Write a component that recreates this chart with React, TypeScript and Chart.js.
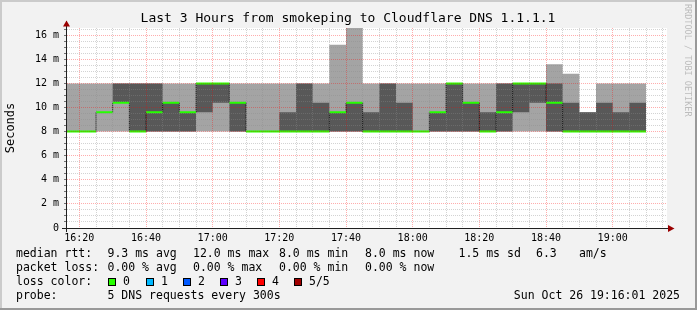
import React, { useEffect, useRef } from "react";
import { Chart, registerables } from "chart.js";

Chart.register(...registerables);

// Time axis: minutes after 16:00. Each RRD step is 5 minutes.
const intervalStartMin = [15, 20, 25, 30, 35, 40, 45, 50, 55, 60, 65, 70, 75, 80, 85, 90, 95, 100, 105, 110, 115, 120, 125, 130, 135, 140, 145, 150, 155, 160, 165, 170, 175, 180, 185];
const intervalEndMin = 190;

// Sorted pings (ms) per step: min, 2nd, median, 4th, max
const minRtt = [8, 8, 8, 8, 8, 8, 8, 8, 8, 8, 8, 8, 8, 8, 8, 8, 8, 8, 8, 8, 8, 8, 8, 8, 8, 8, 8, 8, 8, 8, 8, 8, 8, 8, 8];
const ping2Rtt = [8, 8, 9.6, 10.4, 8, 8, 8, 8, 9.6, 10.4, 8, 8, 8, 8, 8, 8, 8, 8, 8, 8, 8, 8, 8, 8, 8, 8, 8, 9.6, 10.4, 8, 8, 8, 8, 8, 8];
const medianRtt = [8, 8, 9.6, 10.4, 8, 9.6, 10.4, 9.6, 12, 12, 10.4, 8, 8, 8, 8, 8, 9.6, 10.4, 8, 8, 8, 8, 9.6, 12, 10.4, 8, 9.6, 12, 12, 10.4, 8, 8, 8, 8, 8];
const ping4Rtt = [8, 8, 9.6, 12, 12, 12, 10.4, 9.6, 12, 12, 10.4, 8, 8, 9.6, 12, 10.4, 9.6, 10.4, 9.6, 12, 10.4, 8, 9.6, 12, 10.4, 9.6, 12, 12, 12, 12, 10.4, 9.6, 10.4, 9.6, 10.4];
const maxRtt = [12, 12, 12, 12, 12, 12, 12, 12, 12, 12, 12, 12, 12, 12, 12, 12, 15.2, 16.6, 12, 12, 12, 12, 12, 12, 12, 12, 12, 12, 12, 13.6, 12.8, 9.6, 12, 12, 12];

const xLabelMinutes = [20, 40, 60, 80, 100, 120, 140, 160, 180];
const xTickLabels = ["16:20", "16:40", "17:00", "17:20", "17:40", "18:00", "18:20", "18:40", "19:00"];
const yLabelValues = [0, 2, 4, 6, 8, 10, 12, 14, 16];
const yTickLabels = ["0", "2 m", "4 m", "6 m", "8 m", "10 m", "12 m", "14 m", "16 m"];

const titleText = "Last 3 Hours from smokeping to Cloudflare DNS 1.1.1.1";
const rttStats = ["9.3 ms avg", "12.0 ms max", "8.0 ms min", "8.0 ms now", "1.5 ms sd", "6.3", "am/s"];
const lossStats = ["0.00 % avg", "0.00 % max", "0.00 % min", "0.00 % now"];
const lossLabels = ["0", "1", "2", "3", "4", "5/5"];
const lossColors = ["#26ff00", "#00b8ff", "#0059ff", "#5e00ff", "#ff0000", "#a00000"];
const probeText = "5 DNS requests every 300s";
const dateText = "Sun Oct 26 19:16:01 2025";
const sideText = "RRDTOOL / TOBI OETIKER";

const X_MIN = 16.3;
const X_MAX = 196.3;
const Y_MAX = 16.6;

const MONO = '"DejaVu Sans Mono", monospace';

const decorPlugin = {
  id: "smokeDecor",
  beforeDraw(chart: any) {
    const { ctx, chartArea: a, width, height } = chart;
    ctx.save();
    ctx.fillStyle = "#f2f2f2";
    ctx.fillRect(0, 0, width, height);
    ctx.fillStyle = "#cbcbcb";
    ctx.fillRect(0, 0, width, 2);
    ctx.fillRect(0, 0, 2, height);
    ctx.fillStyle = "#999999";
    ctx.fillRect(0, height - 2, width, 2);
    ctx.fillRect(width - 2, 0, 2, height);
    ctx.fillStyle = "#ffffff";
    ctx.fillRect(a.left, a.top, a.right - a.left, a.bottom - a.top);
    ctx.restore();
  },
  afterDraw(chart: any) {
    const { ctx, chartArea: a } = chart;
    ctx.save();
    // axes
    ctx.fillStyle = "#202020";
    ctx.fillRect(a.left - 1, a.top - 7, 1, a.bottom - a.top + 11);
    ctx.fillRect(a.left - 5, a.bottom, a.right - a.left + 6, 1);
    // arrows
    ctx.fillStyle = "#9a0000";
    ctx.beginPath();
    ctx.moveTo(a.left - 4, a.top - 1.5);
    ctx.lineTo(a.left + 3, a.top - 1.5);
    ctx.lineTo(a.left - 0.5, a.top - 7.5);
    ctx.closePath();
    ctx.fill();
    ctx.beginPath();
    ctx.moveTo(a.right + 1, a.bottom - 3);
    ctx.lineTo(a.right + 1, a.bottom + 4);
    ctx.lineTo(a.right + 7.5, a.bottom + 0.5);
    ctx.closePath();
    ctx.fill();

    // title
    ctx.fillStyle = "#000";
    ctx.font = `13px ${MONO}`;
    ctx.textAlign = "center";
    ctx.textBaseline = "middle";
    ctx.fillText(titleText, 348, 19);

    // legend
    ctx.font = `11.5px ${MONO}`;
    ctx.textAlign = "left";
    const rows = [254, 268, 282, 296];
    const colX = [107.5, 193, 279, 365, 458.5, 536, 579];
    ctx.fillText("median rtt:", 16, rows[0]);
    rttStats.forEach((t, i) => ctx.fillText(t, colX[i], rows[0]));
    ctx.fillText("packet loss:", 16, rows[1]);
    lossStats.forEach((t, i) => ctx.fillText(t, colX[i], rows[1]));
    ctx.fillText("loss color:", 16, rows[2]);
    const boxX = [108, 145.5, 182.5, 219.5, 256.5, 293.5];
    lossLabels.forEach((t, i) => {
      const bx = Math.round(boxX[i]);
      ctx.fillStyle = lossColors[i];
      ctx.fillRect(bx, rows[2] - 4, 8, 8);
      ctx.strokeStyle = "#000";
      ctx.lineWidth = 1;
      ctx.strokeRect(bx + 0.5, rows[2] - 3.5, 7, 7);
      ctx.fillStyle = "#000";
      ctx.fillText(t, bx + 15, rows[2]);
    });
    ctx.fillText("probe:", 16, rows[3]);
    ctx.fillText(probeText, 107.5, rows[3]);
    ctx.textAlign = "right";
    ctx.fillText(dateText, 680, rows[3]);

    // side text
    ctx.translate(687, 4);
    ctx.rotate(Math.PI / 2);
    ctx.textAlign = "left";
    ctx.fillStyle = "#bdbdbd";
    ctx.font = `8.5px ${MONO}`;
    ctx.fillText(sideText, 0, 0);
    ctx.restore();
  },
};

export default function App() {
  const ref = useRef<HTMLCanvasElement>(null);

  useEffect(() => {
    const canvas = ref.current;
    if (!canvas) return;

    const ends = [...intervalStartMin.slice(1), intervalEndMin];
    const stepPts = (vals: number[]) => {
      const pts = intervalStartMin.map((x, i) => ({ x, y: vals[i] }));
      pts.push({ x: intervalEndMin, y: vals[vals.length - 1] });
      return pts;
    };
    const medianPts: { x: number; y: number | null }[] = [];
    intervalStartMin.forEach((x, i) => {
      medianPts.push({ x, y: medianRtt[i] }, { x: ends[i], y: medianRtt[i] }, { x: ends[i], y: null });
    });
    const riserPts: { x: number; y: number | null }[] = [];
    for (let i = 1; i < intervalStartMin.length; i++) {
      if (medianRtt[i] !== medianRtt[i - 1]) {
        const x = intervalStartMin[i];
        riserPts.push({ x, y: medianRtt[i - 1] }, { x, y: medianRtt[i] }, { x, y: null });
      }
    }

    const xGrid: number[] = [];
    for (let m = 20; m <= 195; m += 5) xGrid.push(m);
    const yGrid: number[] = [];
    for (let k = 0; k <= 33; k++) yGrid.push(k * 0.5);

    const band = { pointRadius: 0, borderWidth: 0, borderColor: "transparent", stepped: true, tension: 0 };

    const chart = new Chart(canvas, {
      type: "line",
      data: {
        datasets: [
          { ...band, label: "max", data: stepPts(maxRtt), fill: "+1", backgroundColor: "#a4a4a4", order: 6 },
          { ...band, label: "min", data: stepPts(minRtt), fill: false, order: 7 },
          { ...band, label: "p4", data: stepPts(ping4Rtt), fill: "+1", backgroundColor: "#585858", order: 4 },
          { ...band, label: "p2", data: stepPts(ping2Rtt), fill: false, order: 5 },
          {
            label: "median risers",
            data: riserPts,
            borderColor: "#000000",
            borderWidth: 1,
            borderDash: [1, 1],
            pointRadius: 0,
            fill: false,
            order: 2,
          },
          {
            label: "median",
            data: medianPts,
            borderColor: "#26ff00",
            borderWidth: 2,
            borderCapStyle: "butt",
            pointRadius: 0,
            fill: false,
            order: 1,
          },
        ] as any,
      },
      options: {
        animation: false,
        responsive: false,
        devicePixelRatio: 1,
        events: [],
        layout: { padding: { left: 0, top: 28, right: 30, bottom: 58 } },
        plugins: {
          legend: { display: false },
          tooltip: { enabled: false },
          title: { display: false },
        },
        scales: {
          x: {
            type: "linear",
            min: X_MIN,
            max: X_MAX,
            afterFit: (s: any) => {
              s.height = 24;
            },
            afterBuildTicks: (s: any) => {
              s.ticks = xGrid.map((value) => ({ value }));
            },
            grid: {
              z: 1,
              lineWidth: 1,
              drawTicks: false,
              color: (c: any) =>
                c.tick && c.tick.value % 20 === 0 ? "rgba(255,0,0,0.32)" : "rgba(140,140,140,0.38)",
            },
            border: { display: false, dash: [1, 1] },
            ticks: {
              autoSkip: false,
              maxRotation: 0,
              minRotation: 0,
              padding: 4,
              color: "#000",
              font: { family: MONO, size: 10 },
              callback: (v: any) => {
                const k = xLabelMinutes.indexOf(Number(v));
                return k >= 0 ? xTickLabels[k] : "";
              },
            },
          },
          y: {
            type: "linear",
            min: 0,
            max: Y_MAX,
            afterFit: (s: any) => {
              s.width = 67;
            },
            afterBuildTicks: (s: any) => {
              s.ticks = yGrid.map((value) => ({ value }));
            },
            grid: {
              z: 1,
              lineWidth: 1,
              drawTicks: true,
              tickLength: 3,
              tickColor: "rgba(60,60,60,0.7)",
              color: (c: any) =>
                c.tick && c.tick.value % 2 === 0 ? "rgba(255,0,0,0.32)" : "rgba(140,140,140,0.38)",
            },
            border: { display: false, dash: [1, 1] },
            title: {
              display: true,
              text: "Seconds",
              color: "#000",
              font: { family: MONO, size: 12 },
              padding: { top: 4, bottom: 0 },
            },
            ticks: {
              autoSkip: false,
              padding: 5,
              color: "#000",
              font: { family: MONO, size: 10 },
              callback: (v: any) => {
                const k = yLabelValues.indexOf(Number(v));
                return k >= 0 ? yTickLabels[k] : "";
              },
            },
          },
        },
      } as any,
      plugins: [decorPlugin],
    });

    return () => chart.destroy();
  }, []);

  return (
    <div style={{ position: "absolute", left: 0, top: 0, width: 697, height: 310 }}>
      <canvas ref={ref} width={697} height={310} style={{ display: "block", width: 697, height: 310 }} />
    </div>
  );
}
